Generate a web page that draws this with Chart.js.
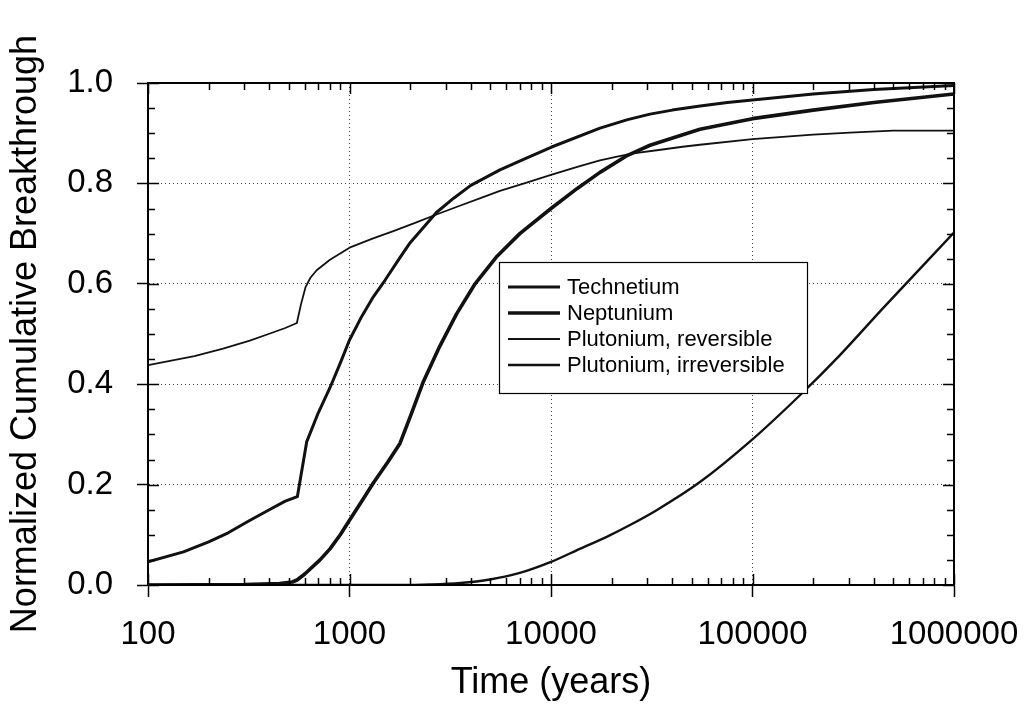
<!DOCTYPE html>
<html>
<head>
<meta charset="utf-8">
<title>Normalized Cumulative Breakthrough</title>
<script src="https://cdn.jsdelivr.net/npm/chart.js@4.4.1/dist/chart.umd.min.js"></script>
<style>
  body { margin: 0; background: #fff; }
  #wrap { width: 1028px; height: 710px; }
</style>
</head>
<body>
<div id="wrap"><canvas id="myChart" width="1028" height="710"></canvas></div>
<script>
/** Values (time in years, normalized breakthrough) **/
const tcYears = [100, 150, 200, 250, 321, 400, 480, 551, 613, 700, 800, 900, 1000, 1150, 1313, 1500, 1780, 2000, 2350, 2700, 3300, 4000, 5580, 7500, 10000, 17500, 24000, 31000, 40000, 55000, 75000, 100000, 200000, 400000, 1000000];
const tcValues = [0.046, 0.066, 0.086, 0.104, 0.129, 0.150, 0.167, 0.176, 0.285, 0.343, 0.393, 0.442, 0.488, 0.535, 0.574, 0.607, 0.652, 0.682, 0.714, 0.742, 0.771, 0.796, 0.827, 0.850, 0.872, 0.910, 0.927, 0.938, 0.946, 0.954, 0.961, 0.966, 0.978, 0.987, 0.995];

const npYears = [100, 300, 450, 520, 549, 600, 714, 800, 900, 1000, 1150, 1313, 1550, 1780, 2000, 2325, 2800, 3400, 4200, 5400, 7000, 10000, 13500, 17500, 24000, 31000, 54860, 100000, 200000, 400000, 1000000];
const npValues = [0, 0.001, 0.003, 0.006, 0.010, 0.022, 0.050, 0.072, 0.100, 0.129, 0.167, 0.203, 0.245, 0.282, 0.335, 0.405, 0.475, 0.540, 0.600, 0.655, 0.700, 0.750, 0.790, 0.822, 0.856, 0.876, 0.908, 0.929, 0.946, 0.961, 0.978];

const puRevYears = [100, 170, 236, 320, 403, 480, 548, 575, 606, 640, 687, 800, 1000, 1300, 1650, 2100, 2700, 3500, 4500, 5580, 7500, 10000, 13500, 17500, 21000, 25600, 35000, 45000, 54860, 100000, 200000, 304800, 500000, 1000000];
const puRevValues = [0.438, 0.456, 0.471, 0.487, 0.501, 0.512, 0.522, 0.560, 0.594, 0.612, 0.627, 0.648, 0.672, 0.690, 0.705, 0.721, 0.738, 0.755, 0.771, 0.785, 0.801, 0.817, 0.833, 0.846, 0.853, 0.860, 0.867, 0.873, 0.877, 0.888, 0.897, 0.901, 0.905, 0.905];

const puIrrYears = [100, 1000, 1778, 2500, 3550, 4978, 7000, 10000, 13900, 18900, 24800, 33430, 54860, 97300, 172000, 271700, 445800, 1000000];
const puIrrValues = [0, 0, 0, 0.001, 0.004, 0.011, 0.024, 0.046, 0.072, 0.096, 0.120, 0.149, 0.205, 0.286, 0.378, 0.458, 0.552, 0.702];

const seriesLabels = ["Technetium", "Neptunium", "Plutonium, reversible", "Plutonium, irreversible"];
const xTickValues = [100, 1000, 10000, 100000, 1000000];
const yTickStep = 0.2;

//  Pair up the years and values for the line datasets
function toPoints(xs, ys) {
  return xs.map((x, i) => ({ x: x, y: ys[i] }));
}

Chart.defaults.font.family = '"Liberation Sans", Arial, Helvetica, sans-serif';
Chart.defaults.color = "#000";

/** Plugin: box round the plot with inward major and minor ticks **/
const frameTicks = {
  id: "frameTicks",
  afterDatasetsDraw(chart) {
    const { ctx, chartArea: a, scales: { x, y } } = chart;
    ctx.save();
    ctx.strokeStyle = "#000";
    ctx.lineWidth = 1.5;
    ctx.beginPath();
    //  Log ticks along bottom and top
    for (let d = 100; d <= 1000000; d *= 10) {
      for (let m = 1; m <= 9; m++) {
        const v = d * m;
        if (v > 1000000) break;
        const px = Math.round(x.getPixelForValue(v)) + 0.5;
        const len = m === 1 ? 11 : 7;
        ctx.moveTo(px, a.bottom);
        ctx.lineTo(px, a.bottom - len);
        ctx.moveTo(px, a.top);
        ctx.lineTo(px, a.top + len);
      }
    }
    //  0.05 ticks along left and right
    for (let i = 0; i <= 20; i++) {
      const py = Math.round(y.getPixelForValue(i * 0.05)) + 0.5;
      const len = i % 4 === 0 ? 11 : 7;
      ctx.moveTo(a.left, py);
      ctx.lineTo(a.left + len, py);
      ctx.moveTo(a.right, py);
      ctx.lineTo(a.right - len, py);
    }
    ctx.stroke();
    ctx.lineWidth = 2;
    ctx.strokeRect(a.left, a.top, a.right - a.left, a.bottom - a.top);
    ctx.restore();
  },
};

/** Plugin: legend box drawn inside the plot **/
const boxLegend = {
  id: "boxLegend",
  afterDraw(chart) {
    const { ctx, chartArea: a } = chart;
    const left = a.left + 351;
    const top = a.top + 179;
    const w = 308;
    const h = 131;
    ctx.save();
    ctx.fillStyle = "#fff";
    ctx.fillRect(left, top, w, h);
    ctx.strokeStyle = "#000";
    ctx.lineWidth = 1.2;
    ctx.strokeRect(left + 0.5, top + 0.5, w, h);
    ctx.font = '22px "Liberation Sans", Arial, sans-serif';
    ctx.textBaseline = "middle";
    ctx.fillStyle = "#000";
    chart.data.datasets.forEach((ds, i) => {
      const rowY = top + 25 + i * 26;
      ctx.beginPath();
      ctx.lineWidth = ds.borderWidth;
      ctx.strokeStyle = ds.borderColor;
      ctx.moveTo(left + 9, rowY);
      ctx.lineTo(left + 61, rowY);
      ctx.stroke();
      ctx.fillText(ds.label, left + 68, rowY + 1);
    });
    ctx.restore();
  },
};

const ctx = document.getElementById("myChart");

let myChart = new Chart(ctx, {
  type: "line",
  data: {
    datasets: [
      { label: seriesLabels[0], data: toPoints(tcYears, tcValues), borderColor: "#111", borderWidth: 3 },
      { label: seriesLabels[1], data: toPoints(npYears, npValues), borderColor: "#111", borderWidth: 3.6 },
      { label: seriesLabels[2], data: toPoints(puRevYears, puRevValues), borderColor: "#111", borderWidth: 1.8 },
      {
        label: seriesLabels[3],
        data: toPoints(puIrrYears, puIrrValues),
        borderColor: "#111",
        borderWidth: 2.4,
        cubicInterpolationMode: "monotone",
      },
    ],
  },
  options: {
    responsive: false,
    animation: false,
    layout: { padding: { top: 83, right: 74, left: 0, bottom: 0 } },
    elements: {
      point: { radius: 0 },
      line: { tension: 0, fill: false, borderJoinStyle: "round" },
    },
    plugins: { legend: { display: false }, tooltip: { enabled: false } },
    scales: {
      x: {
        type: "logarithmic",
        min: 100,
        max: 1000000,
        afterBuildTicks(s) {
          s.ticks = xTickValues.map((v) => ({ value: v }));
        },
        afterFit(s) {
          s.height = 125;
          //  Keep the plot edges fixed, labels may hang into the margins
          s.paddingLeft = 0;
          s.paddingRight = 0;
        },
        ticks: {
          callback: (v) => String(v),
          font: { size: 33 },
          color: "#000",
          padding: 18,
          maxRotation: 0,
          autoSkip: false,
        },
        grid: { color: "#444", lineWidth: 1, tickLength: 12, tickColor: "#000", tickWidth: 1.5 },
        border: { display: true, color: "#000", width: 2, dash: [1, 3] },
        title: {
          display: true,
          text: "Time (years)",
          font: { size: 36 },
          color: "#000",
          padding: { top: 0, bottom: 5 },
        },
      },
      y: {
        min: 0,
        max: 1,
        afterFit(s) {
          s.width = 148;
          s.paddingTop = 0;
          s.paddingBottom = 0;
        },
        ticks: {
          stepSize: yTickStep,
          callback: (v) => v.toFixed(1),
          font: { size: 33 },
          color: "#000",
          padding: 24,
        },
        grid: { color: "#444", lineWidth: 1, tickLength: 11, tickColor: "#000", tickWidth: 1.5 },
        border: { display: true, color: "#000", width: 2, dash: [1, 3] },
        title: {
          display: true,
          text: "Normalized Cumulative Breakthrough",
          font: { size: 36 },
          color: "#000",
          padding: { top: 4, bottom: 0 },
        },
      },
    },
  },
  plugins: [frameTicks, boxLegend],
});
</script>
</body>
</html>
